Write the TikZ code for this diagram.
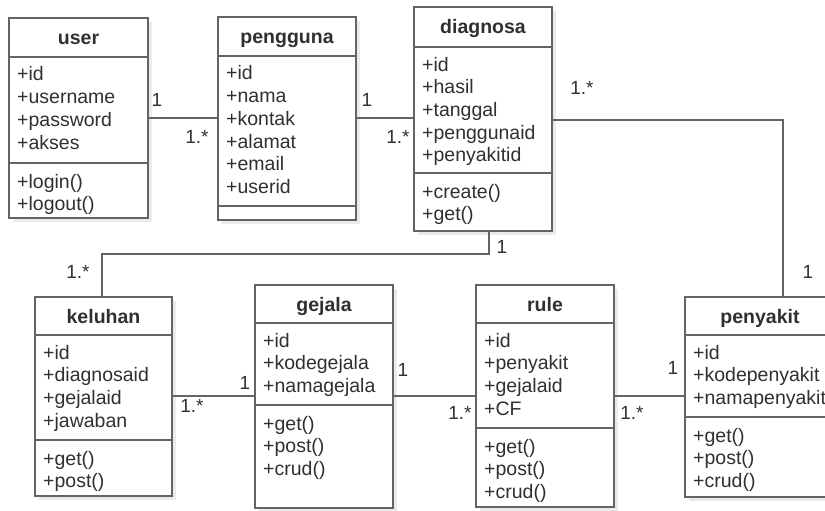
\documentclass[tikz,border=0pt]{standalone}
\usepackage{fontspec}
\setmainfont{Liberation Sans}
\definecolor{lc}{RGB}{100,100,100}
\definecolor{tc}{RGB}{48,48,48}
\tikzset{
  classbox/.style={draw=lc, line width=1.5pt, fill=white, inner sep=0pt, outer sep=0pt, anchor=north west},
  shadowbox/.style={fill=black!8, draw=none},
  divline/.style={draw=lc, line width=1.5pt},
  conn/.style={draw=lc, line width=1.5pt},
  ctitle/.style={text=tc, font=\fontsize{19.5}{22.7}\selectfont\bfseries, inner sep=0pt, anchor=base},
  cline/.style={text=tc, font=\fontsize{19.5}{22.7}\selectfont, inner sep=0pt, anchor=base west},
  mult/.style={text=tc, font=\fontsize{19}{22}\selectfont, inner sep=0pt},
}
% name, left, top, right, bottom, header divider, member divider, title, attributes
\newcommand{\umlclass}[9]{%
  \fill[shadowbox] ({#2+4},{#3+4}) rectangle ({#4+4},{#5+4});
  \node[classbox, minimum width={#4-#2}, minimum height={#5-#3}] (#1) at (#2,#3) {};
  \draw[divline] (#2,#6) -- (#4,#6);
  \draw[divline] (#2,#7) -- (#4,#7);
  \node[ctitle] (#1-title) at ({(#2+#4)/2},{(#3+#6)/2+7}) {#8};
  \foreach \ct [count=\ci] in {#9} {\node[cline] (#1-a\ci) at ({#2+8},{#6+24+(\ci-1)*22.7}) {\ct};}
}
% name, left, member divider, methods
\newcommand{\umlmethods}[4]{%
  \foreach \ct [count=\ci] in {#4} {\node[cline] (#1-m\ci) at ({#2+8},{#3+25+(\ci-1)*22.7}) {\ct};}
}
\begin{document}
\begin{tikzpicture}[x=1pt,y=-1pt]
\useasboundingbox (0,0) rectangle (825,511);
\clip (0,0) rectangle (825,511);

\umlclass{user}{9}{18}{148}{218}{57}{163}{user}{+id,+username,+password,+akses}
\umlmethods{user}{9}{163}{+login(),+logout()}

\umlclass{pengguna}{218}{17}{356}{220}{56}{206}{pengguna}{+id,+nama,+kontak,+alamat,+email,+userid}

\umlclass{diagnosa}{414}{7}{552}{231}{47}{173}{diagnosa}{+id,+hasil,+tanggal,+penggunaid,+penyakitid}
\umlmethods{diagnosa}{414}{173}{+create(),+get()}

\umlclass{keluhan}{35}{297}{172}{496}{335}{440}{keluhan}{+id,+diagnosaid,+gejalaid,+jawaban}
\umlmethods{keluhan}{35}{440}{+get(),+post()}

\umlclass{gejala}{255}{285}{393}{508}{323}{405}{gejala}{+id,+kodegejala,+namagejala}
\umlmethods{gejala}{255}{405}{+get(),+post(),+crud()}

\umlclass{rule}{476}{285}{614}{507}{323}{428}{rule}{+id,+penyakit,+gejalaid,+CF}
\umlmethods{rule}{476}{428}{+get(),+post(),+crud()}

\umlclass{penyakit}{685}{297}{835}{497}{335}{417}{penyakit}{+id,+kodepenyakit,+namapenyakit}
\umlmethods{penyakit}{685}{417}{+get(),+post(),+crud()}

% connectors
\draw[conn] (user.east |- 0,118) -- (pengguna.west |- 0,118);
\draw[conn] (pengguna.east |- 0,118) -- (diagnosa.west |- 0,118);
\coordinate (dpbend) at (783,120);
\draw[conn] (diagnosa.east |- dpbend) -- (dpbend) -- (penyakit.north -| dpbend);
\coordinate (dkb1) at (489,254);
\coordinate (dkb2) at (102,254);
\draw[conn] (diagnosa.south -| dkb1) -- (dkb1) -- (dkb2) -- (keluhan.north -| dkb2);
\draw[conn] (keluhan.east |- 0,396) -- (gejala.west |- 0,396);
\draw[conn] (gejala.east |- 0,396) -- (rule.west |- 0,396);
\draw[conn] (rule.east |- 0,396) -- (penyakit.west |- 0,396);

% multiplicities
\node[mult] (m1) at (157,100) {1};
\node[mult] (m2) at (197,137) {1.*};
\node[mult] (m3) at (367,100) {1};
\node[mult] (m4) at (398,137) {1.*};
\node[mult] (m5) at (582,88) {1.*};
\node[mult] (m6) at (808,272) {1};
\node[mult] (m7) at (502,247) {1};
\node[mult] (m8) at (78,272) {1.*};
\node[mult] (m9) at (245,383) {1};
\node[mult] (m10) at (192,406) {1.*};
\node[mult] (m11) at (403,370) {1};
\node[mult] (m12) at (460,413) {1.*};
\node[mult] (m13) at (673,368) {1};
\node[mult] (m14) at (632,413) {1.*};
\end{tikzpicture}
\end{document}
